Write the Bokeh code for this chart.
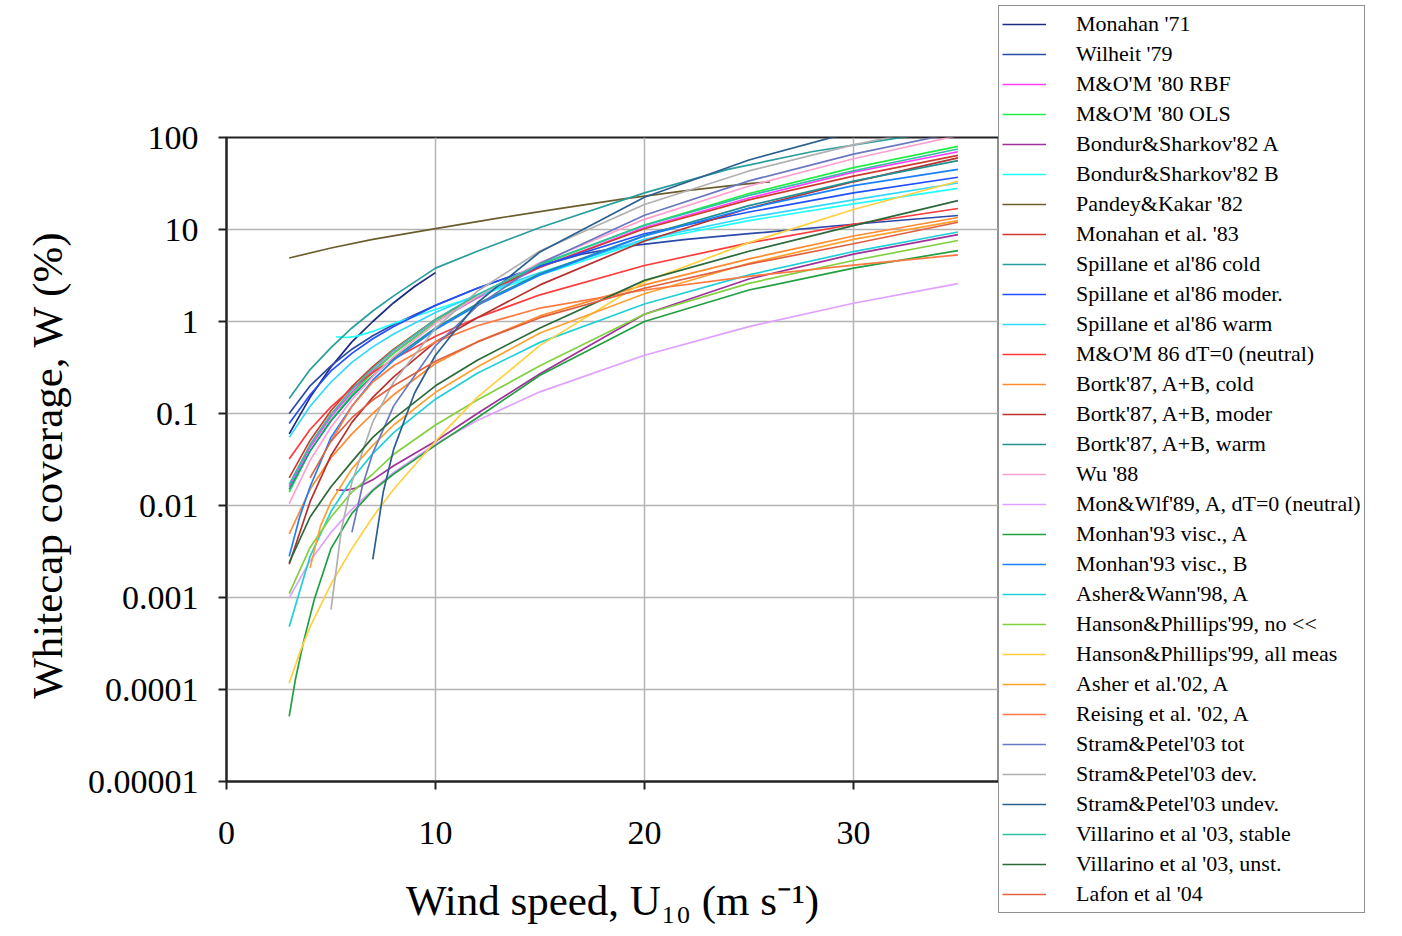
from bokeh.plotting import figure
from bokeh.models import Range1d, FixedTicker, CustomJSTickFormatter, Legend, LegendItem
from bokeh.embed import file_html
from bokeh.resources import INLINE

FONT = "Liberation Serif"

# ---------------- data ----------------
x_ticks = [0, 10, 20, 30]
y_ticks = [1e-5, 1e-4, 1e-3, 1e-2, 1e-1, 1, 10, 100]
y_tick_labels = ["0.00001", "0.0001", "0.001", "0.01", "0.1", "1", "10", "100"]
x_title = "Wind speed, U\u2081\u2080 (m s\u207b\u00b9)"
y_title = "Whitecap coverage,  W (%)"

U_std = [3, 4, 5, 6, 7, 8, 10, 12, 15, 20, 25, 30, 35]

u_monahan71 = [3, 4, 5, 6, 7, 8, 9, 10]
w_monahan71 = [0.06, 0.15, 0.32, 0.6, 1.0, 1.6, 2.4, 3.4]
u_wilheit79 = [3, 4, 5, 6, 7, 8, 10, 12, 15, 17, 19, 22, 25, 30, 35]
w_wilheit79 = [0.1, 0.2, 0.33, 0.5, 0.7, 0.93, 1.5, 2.3, 4.0, 5.4, 6.5, 7.8, 9.0, 11.4, 14.2]
w_mom80_rbf = [0.016, 0.043, 0.093, 0.17, 0.29, 0.46, 0.99, 1.8, 3.9, 10.5, 22, 42, 70]
w_mom80_ols = [0.014, 0.039, 0.085, 0.16, 0.28, 0.45, 0.98, 1.86, 4.1, 11.2, 24.6, 47, 80]
u_bs82a = [5.25, 5.7, 6.2, 7, 8, 10, 12, 15, 20, 25, 30, 35]
w_bs82a = [0.0148, 0.0146, 0.0155, 0.019, 0.027, 0.05, 0.1, 0.27, 1.2, 2.9, 5.4, 8.8]
u_bs82b = [5.25, 5.7, 6.2, 7, 8, 10, 12, 15, 20, 25, 30, 35]
w_bs82b = [0.68, 0.67, 0.69, 0.78, 0.95, 1.35, 1.9, 3.2, 7.5, 12.5, 19, 28]
u_pk82 = [3, 5, 7, 10, 13, 16, 19, 22, 25, 26]
w_pk82 = [4.9, 6.3, 7.8, 10.2, 13.3, 17, 21.5, 26.5, 31.5, 33]
w_mon83 = [0.02, 0.051, 0.107, 0.196, 0.324, 0.5, 1.05, 1.91, 3.9, 10.2, 21, 38, 64]
u_sp86_cold = [3, 4, 5, 6, 7, 8, 10, 12, 15, 20, 24, 28, 32, 35]
w_sp86_cold = [0.146, 0.3, 0.52, 0.85, 1.3, 1.9, 3.8, 5.8, 10.5, 25, 45, 70, 98, 120]
w_sp86_moder = [0.078, 0.16, 0.29, 0.45, 0.65, 0.88, 1.49, 2.3, 4.0, 9.0, 15.5, 25, 37]
w_sp86_warm = [0.055, 0.12, 0.22, 0.36, 0.53, 0.73, 1.25, 1.95, 3.4, 7.8, 13.5, 21, 32]
w_mom86 = [0.032, 0.067, 0.118, 0.188, 0.279, 0.392, 0.69, 1.1, 1.95, 4.06, 7.16, 11.4, 16.9]
w_bortk_cold = [0.0049, 0.015, 0.033, 0.06, 0.1, 0.16, 0.35, 0.6, 1.15, 2.5, 4.8, 8.5, 13.5]
w_bortk_moder = [0.0023, 0.011, 0.035, 0.08, 0.15, 0.25, 0.6, 1.1, 2.5, 7.5, 17, 33, 60]
w_bortk_warm = [0.015, 0.039, 0.083, 0.153, 0.257, 0.402, 0.85, 1.56, 3.3, 8.6, 18.2, 33.5, 56]
w_wu88 = [0.0105, 0.031, 0.071, 0.141, 0.251, 0.414, 0.956, 1.89, 4.37, 12.9, 29.7, 58.8, 105]
w_mw89 = [0.00099, 0.0025, 0.0051, 0.0091, 0.0149, 0.0229, 0.0467, 0.084, 0.172, 0.43, 0.88, 1.58, 2.58]
u_m93a = [3, 3.3, 3.7, 4.2, 5, 6, 7, 8, 10, 12, 15, 20, 25, 30, 35]
w_m93a = [5.1e-5, 0.00013, 0.00034, 0.00095, 0.0034, 0.0082, 0.0145, 0.022, 0.045, 0.09, 0.26, 1.0, 2.2, 3.8, 5.9]
u_m93b = [3, 3.5, 4, 5, 6, 7, 8, 10, 12, 15, 20, 25, 30, 35]
w_m93b = [0.0028, 0.0075, 0.016, 0.055, 0.12, 0.23, 0.38, 0.82, 1.5, 3.2, 8.5, 17, 30, 45]
w_aw98 = [0.00048, 0.0028, 0.0086, 0.0194, 0.0366, 0.062, 0.143, 0.274, 0.593, 1.55, 3.21, 5.76, 9.39]
w_hp99_no = [0.0011, 0.0035, 0.0075, 0.014, 0.022, 0.036, 0.075, 0.14, 0.33, 1.2, 2.6, 4.6, 7.6]
u_hp99_all = [3, 3.5, 4, 5, 6, 7, 8, 10, 12, 15, 20, 25, 30, 35]
w_hp99_all = [0.000117, 0.00025, 0.00048, 0.0014, 0.0034, 0.0075, 0.015, 0.05, 0.15, 0.55, 2.7, 7.2, 16.5, 33.5]
u_asher02 = [4, 4.5, 5, 6, 7, 8, 10, 12, 15, 20, 25, 30, 35]
w_asher02 = [0.0021, 0.006, 0.011, 0.025, 0.045, 0.075, 0.17, 0.32, 0.75, 2.0, 4.3, 7.8, 12.5]
u_reising02 = [5, 6, 7, 8, 10, 12, 15, 20, 25, 30, 35]
w_reising02 = [0.05, 0.12, 0.22, 0.33, 0.6, 0.9, 1.4, 2.2, 3.1, 4.1, 5.3]
u_sp03_tot = [6, 6.5, 7, 8, 10, 12, 15, 20, 25, 30, 35]
w_sp03_tot = [0.0051, 0.0162, 0.0371, 0.121, 0.545, 1.48, 4.27, 14.3, 33.8, 65.9, 113.7]
u_sp03_dev = [5, 5.5, 6, 7, 8, 10, 12, 15, 20, 25, 30, 35]
w_sp03_dev = [0.00074, 0.0055, 0.0179, 0.081, 0.22, 0.846, 2.13, 5.84, 18.7, 43.3, 83.2, 142]
u_sp03_undev = [7, 7.5, 8, 9, 10, 12, 15, 20, 25, 30]
w_sp03_undev = [0.0026, 0.014, 0.041, 0.167, 0.43, 1.6, 5.7, 22.4, 57, 116]
w_vill03_stable = [0.017, 0.046, 0.098, 0.182, 0.309, 0.488, 1.05, 1.95, 4.2, 11.1, 23.5, 43.5, 75]
w_vill03_unst = [0.0024, 0.0075, 0.016, 0.03, 0.055, 0.088, 0.2, 0.38, 0.85, 2.8, 5.8, 11, 20.6]
u_lafon04 = [4, 5, 6, 7, 8, 10, 12, 15, 20, 25, 30, 35]
w_lafon04 = [0.02, 0.05, 0.09, 0.14, 0.2, 0.37, 0.6, 1.1, 2.3, 4.2, 7.0, 12]

series = [
    ("Monahan '71", "#1c2a80", u_monahan71, w_monahan71),
    ("Wilheit '79", "#2c48a8", u_wilheit79, w_wilheit79),
    ("M&O'M '80 RBF", "#ff40ff", U_std, w_mom80_rbf),
    ("M&O'M '80 OLS", "#22ee44", U_std, w_mom80_ols),
    ("Bondur&Sharkov'82 A", "#a0309a", u_bs82a, w_bs82a),
    ("Bondur&Sharkov'82 B", "#22ffff", u_bs82b, w_bs82b),
    ("Pandey&Kakar '82", "#6b5e2e", u_pk82, w_pk82),
    ("Monahan et al. '83", "#d03a30", U_std, w_mon83),
    ("Spillane et al'86 cold", "#2a9d9d", u_sp86_cold, w_sp86_cold),
    ("Spillane et al'86 moder.", "#2050ff", U_std, w_sp86_moder),
    ("Spillane et al'86 warm", "#30d8ff", U_std, w_sp86_warm),
    ("M&O'M 86 dT=0 (neutral)", "#ff3a3a", U_std, w_mom86),
    ("Bortk'87, A+B, cold", "#ff8a30", U_std, w_bortk_cold),
    ("Bortk'87, A+B, moder", "#b83030", U_std, w_bortk_moder),
    ("Bortk'87, A+B, warm", "#209090", U_std, w_bortk_warm),
    ("Wu '88", "#ffa0d0", U_std, w_wu88),
    ("Mon&Wlf'89, A, dT=0 (neutral)", "#e0a0ff", U_std, w_mw89),
    ("Monhan'93 visc., A", "#20a040", u_m93a, w_m93a),
    ("Monhan'93 visc., B", "#1a80ff", u_m93b, w_m93b),
    ("Asher&Wann'98, A", "#20d0d8", U_std, w_aw98),
    ("Hanson&Phillips'99, no <<", "#80d040", U_std, w_hp99_no),
    ("Hanson&Phillips'99, all meas", "#ffd040", u_hp99_all, w_hp99_all),
    ("Asher et al.'02, A", "#ffa030", u_asher02, w_asher02),
    ("Reising et al. '02, A", "#ff7a40", u_reising02, w_reising02),
    ("Stram&Petel'03 tot", "#6a78c0", u_sp03_tot, w_sp03_tot),
    ("Stram&Petel'03 dev.", "#b0b0b0", u_sp03_dev, w_sp03_dev),
    ("Stram&Petel'03 undev.", "#2a6090", u_sp03_undev, w_sp03_undev),
    ("Villarino et al '03, stable", "#30c0a0", U_std, w_vill03_stable),
    ("Villarino et al '03, unst.", "#2a6a3a", U_std, w_vill03_unst),
    ("Lafon et al '04", "#e06040", u_lafon04, w_lafon04),
]

# ---------------- main plot ----------------
p = figure(frame_width=772, frame_height=644, x_range=Range1d(0, 36.94), y_range=Range1d(1e-5, 100),
           y_axis_type="log", output_backend="svg", toolbar_location=None,
           min_border_left=226, min_border_right=398, min_border_top=137, min_border_bottom=149,
           background_fill_color="white", border_fill_color="white")

items = []
for name, col, u, w in series:
    r = p.line(u, w, line_color=col, line_width=1.7)
    items.append(LegendItem(label=name, renderers=[r]))

p.xaxis.ticker = FixedTicker(ticks=x_ticks)
p.yaxis.ticker = FixedTicker(ticks=y_ticks)
p.yaxis.formatter = CustomJSTickFormatter(args=dict(labels=y_tick_labels),
                                          code="return labels[Math.round(Math.log10(tick)) + 5];")
for ax in (p.xaxis[0], p.yaxis[0]):
    ax.axis_line_color = "#222222"
    ax.axis_line_width = 2
    ax.major_tick_line_color = "#222222"
    ax.major_tick_line_width = 2
    ax.major_tick_out = 8
    ax.major_tick_in = 0
    ax.minor_tick_line_color = None
    ax.major_label_text_font = FONT
    ax.major_label_text_font_size = "34px"
    ax.major_label_text_color = "black"
    ax.axis_label_text_font = FONT
    ax.axis_label_text_font_style = "normal"
    ax.axis_label_text_color = "black"
    ax.axis_label_text_font_size = "43px"
p.xaxis.major_label_standoff = 32
p.yaxis.major_label_standoff = 20
p.xaxis.axis_label = x_title
p.yaxis.axis_label = y_title
p.xaxis.axis_label_standoff = 30
p.yaxis.axis_label_standoff = 14

p.grid.grid_line_color = "#b4b4b4"
p.grid.grid_line_width = 1.5
p.outline_line_color = "#222222"
p.outline_line_width = 2

legend = Legend(items=items, location="center_left", orientation="vertical",
                label_text_font=FONT, label_text_font_size="22px", label_text_color="black",
                label_height=30, glyph_height=30, glyph_width=44, label_standoff=30,
                spacing=0, padding=3, margin=0,
                border_line_color="#222222", border_line_width=1.5,
                background_fill_color="white", background_fill_alpha=1.0)
p.add_layout(legend, "right")

open("out.html", "w").write(file_html(p, INLINE))
